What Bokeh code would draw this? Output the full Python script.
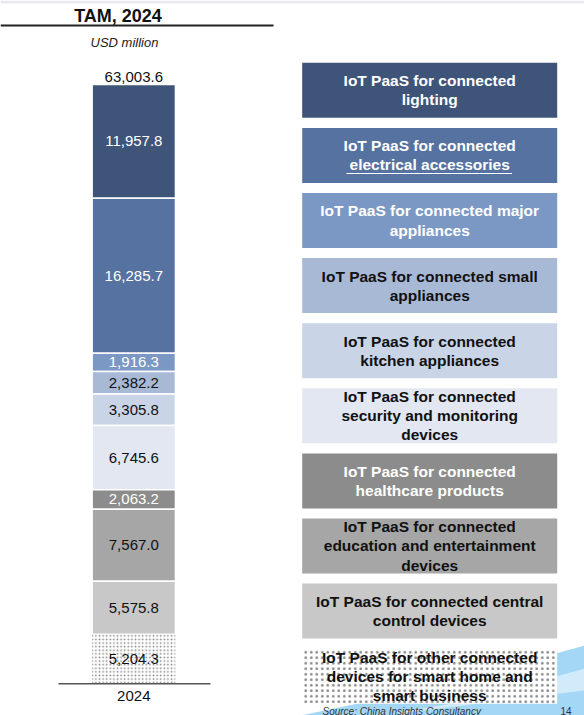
from bokeh.plotting import figure
from bokeh.models import Range1d, ColumnDataSource
from bokeh.embed import file_html
from bokeh.resources import INLINE
from bokeh.core.properties import value

# ---------------- data ----------------
title_text = "TAM, 2024"
unit_text = "USD million"
year_label = "2024"
total_value = 63003.6
source_text = "Source: China Insights Consultancy"
page_no = "14"

# legend order = top of stack first
segment_labels = [
    "IoT PaaS for connected\nlighting",
    "IoT PaaS for connected\nelectrical accessories",
    "IoT PaaS for connected major\nappliances",
    "IoT PaaS for connected small\nappliances",
    "IoT PaaS for connected\nkitchen appliances",
    "IoT PaaS for connected\nsecurity and monitoring\ndevices",
    "IoT PaaS for connected\nhealthcare products",
    "IoT PaaS for connected\neducation and entertainment\ndevices",
    "IoT PaaS for connected central\ncontrol devices",
    "IoT PaaS for other connected\ndevices for smart home and\nsmart business",
]
segment_values = [11957.8, 16285.7, 1916.3, 2382.2, 3305.8, 6745.6, 2063.2, 7567.0, 5575.8, 5204.3]

fill_colors = ["#3e5479", "#5572a0", "#7b98c4", "#a8b9d6", "#c9d4e7",
               "#e2e7f1", "#8c8c8c", "#a6a6a6", "#c8c8c8", "#ffffff"]
text_colors = ["#ffffff", "#ffffff", "#ffffff", "#111111", "#111111",
               "#111111", "#ffffff", "#111111", "#111111", "#111111"]

FONT = value("Liberation Sans")

# ---------------- geometry ----------------
W, H = 584, 715
bar_bottom_px = 683.3   # px from top
bar_top_px = 84.0
ppv = (bar_bottom_px - bar_top_px) / total_value
y_start = -(H - bar_bottom_px) / ppv
y_end = bar_bottom_px / ppv

bar_cx = 133.3
bar_w = 83.3

p = figure(width=W, height=H, output_backend="svg", toolbar_location=None,
           x_range=Range1d(0, W), y_range=Range1d(y_start, y_end),
           x_axis_type=None, y_axis_type=None, min_border=0,
           outline_line_color=None)
p.extra_y_ranges = {"px": Range1d(H, 0)}
p.xgrid.visible = False
p.ygrid.visible = False
p.background_fill_color = "white"
p.border_fill_color = "white"

# top strip
p.quad(left=[0], right=[W], top=[0], bottom=[3], y_range_name="px",
       fill_color="#e9eaef", line_color=None)

# decorative swoosh (bottom right)
p.patch(x=[584, 584, 300, 420], y=[645, 715, 715, 690], y_range_name="px",
        fill_color="#a3d7f5", line_color=None)
p.patch(x=[584, 584, 380, 470], y=[668, 690, 715, 700], y_range_name="px",
        fill_color="#d2ebfa", line_color=None)

# ---------------- stacked bar ----------------
n = len(segment_values)
tops, bottoms = [0.0] * n, [0.0] * n
acc = 0.0
for i in range(n - 1, -1, -1):
    bottoms[i] = acc
    acc += segment_values[i]
    tops[i] = acc

src = ColumnDataSource(dict(
    x=[bar_cx] * (n - 1), bottom=bottoms[:-1], top=tops[:-1],
    color=fill_colors[:-1],
))
p.vbar(x="x", width=bar_w, bottom="bottom", top="top", source=src,
       fill_color="color", line_color="white", line_width=1.5)

src_other = ColumnDataSource(dict(x=[bar_cx], bottom=[bottoms[-1]], top=[tops[-1]]))
p.vbar(x="x", width=bar_w, bottom="bottom", top="top", source=src_other,
       fill_color="white", line_color=None, hatch_pattern="dot",
       hatch_color="#888888", hatch_scale=3.6, hatch_weight=1)

lab_src = ColumnDataSource(dict(
    x=[bar_cx] * n, y=[(b + t) / 2 for b, t in zip(bottoms, tops)],
    text=[f"{v:,.1f}" for v in segment_values], color=text_colors,
))
p.text(x="x", y="y", text="text", source=lab_src, text_color="color",
       text_font=FONT, text_font_size="15px", text_align="center",
       text_baseline="middle")

# total label
p.text(x=[bar_cx], y=[total_value], text=[f"{total_value:,.1f}"],
       text_font=FONT, text_font_size="15px", text_align="center",
       text_baseline="alphabetic", y_offset=-8, text_color="#111111")

# axis line and category label
p.segment(x0=[58], x1=[210], y0=[0], y1=[0], line_color="#555555", line_width=1.5)
p.text(x=[bar_cx], y=[0], text=[year_label], text_font=FONT,
       text_font_size="15px", text_align="center", text_baseline="top",
       y_offset=7, text_color="#111111")

# title, underline, unit
p.text(x=[117.5], y=[15], text=[title_text], y_range_name="px", text_font=FONT,
       text_font_size="18px", text_font_style="bold", text_align="center",
       text_baseline="middle", text_color="#111111")
p.segment(x0=[0], x1=[273], y0=[25], y1=[25], y_range_name="px",
          line_color="#222222", line_width=2)
p.text(x=[124], y=[42], text=[unit_text], y_range_name="px", text_font=FONT,
       text_font_size="13px", text_font_style="italic", text_align="center",
       text_baseline="middle", text_color="#222222")

# ---------------- legend boxes ----------------
box_left, box_right = 301.7, 556.7
box_top0, pitch, box_h = 62.3, 65.1, 55.0
b_tops = [box_top0 + pitch * i for i in range(n)]
b_bots = [t + box_h for t in b_tops]
box_src = ColumnDataSource(dict(
    left=[box_left] * (n - 1), right=[box_right] * (n - 1),
    top=b_tops[:-1], bottom=b_bots[:-1], color=fill_colors[:-1],
))
p.quad(left="left", right="right", top="top", bottom="bottom", source=box_src,
       y_range_name="px", fill_color="color", line_color=None)
p.quad(left=[box_left], right=[box_right], top=[b_tops[-1]], bottom=[b_bots[-1]],
       y_range_name="px", fill_color="white", line_color=None,
       hatch_pattern="dot", hatch_color="#888888", hatch_scale=5.5, hatch_weight=1)

txt_src = ColumnDataSource(dict(
    x=[(box_left + box_right) / 2] * n,
    y=[t + box_h / 2 for t in b_tops],
    text=segment_labels, color=text_colors,
))
p.text(x="x", y="y", text="text", source=txt_src, y_range_name="px",
       text_color="color", text_font=FONT, text_font_size="15.5px",
       text_font_style="bold", text_align="center", text_baseline="middle",
       text_line_height=1.12)

# underline in the electrical accessories box
p.segment(x0=[346], x1=[511.5], y0=[173], y1=[173], y_range_name="px",
          line_color="white", line_width=1.2)

# source footer
p.text(x=[322], y=[710.5], text=[source_text], y_range_name="px", text_font=FONT,
       text_font_size="10px", text_font_style="italic", text_align="left",
       text_baseline="alphabetic", text_color="#333333")
p.text(x=[560], y=[710.5], text=[page_no], y_range_name="px", text_font=FONT,
       text_font_size="10px", text_align="left",
       text_baseline="alphabetic", text_color="#333333")

open("out.html", "w").write(file_html(p, INLINE))
